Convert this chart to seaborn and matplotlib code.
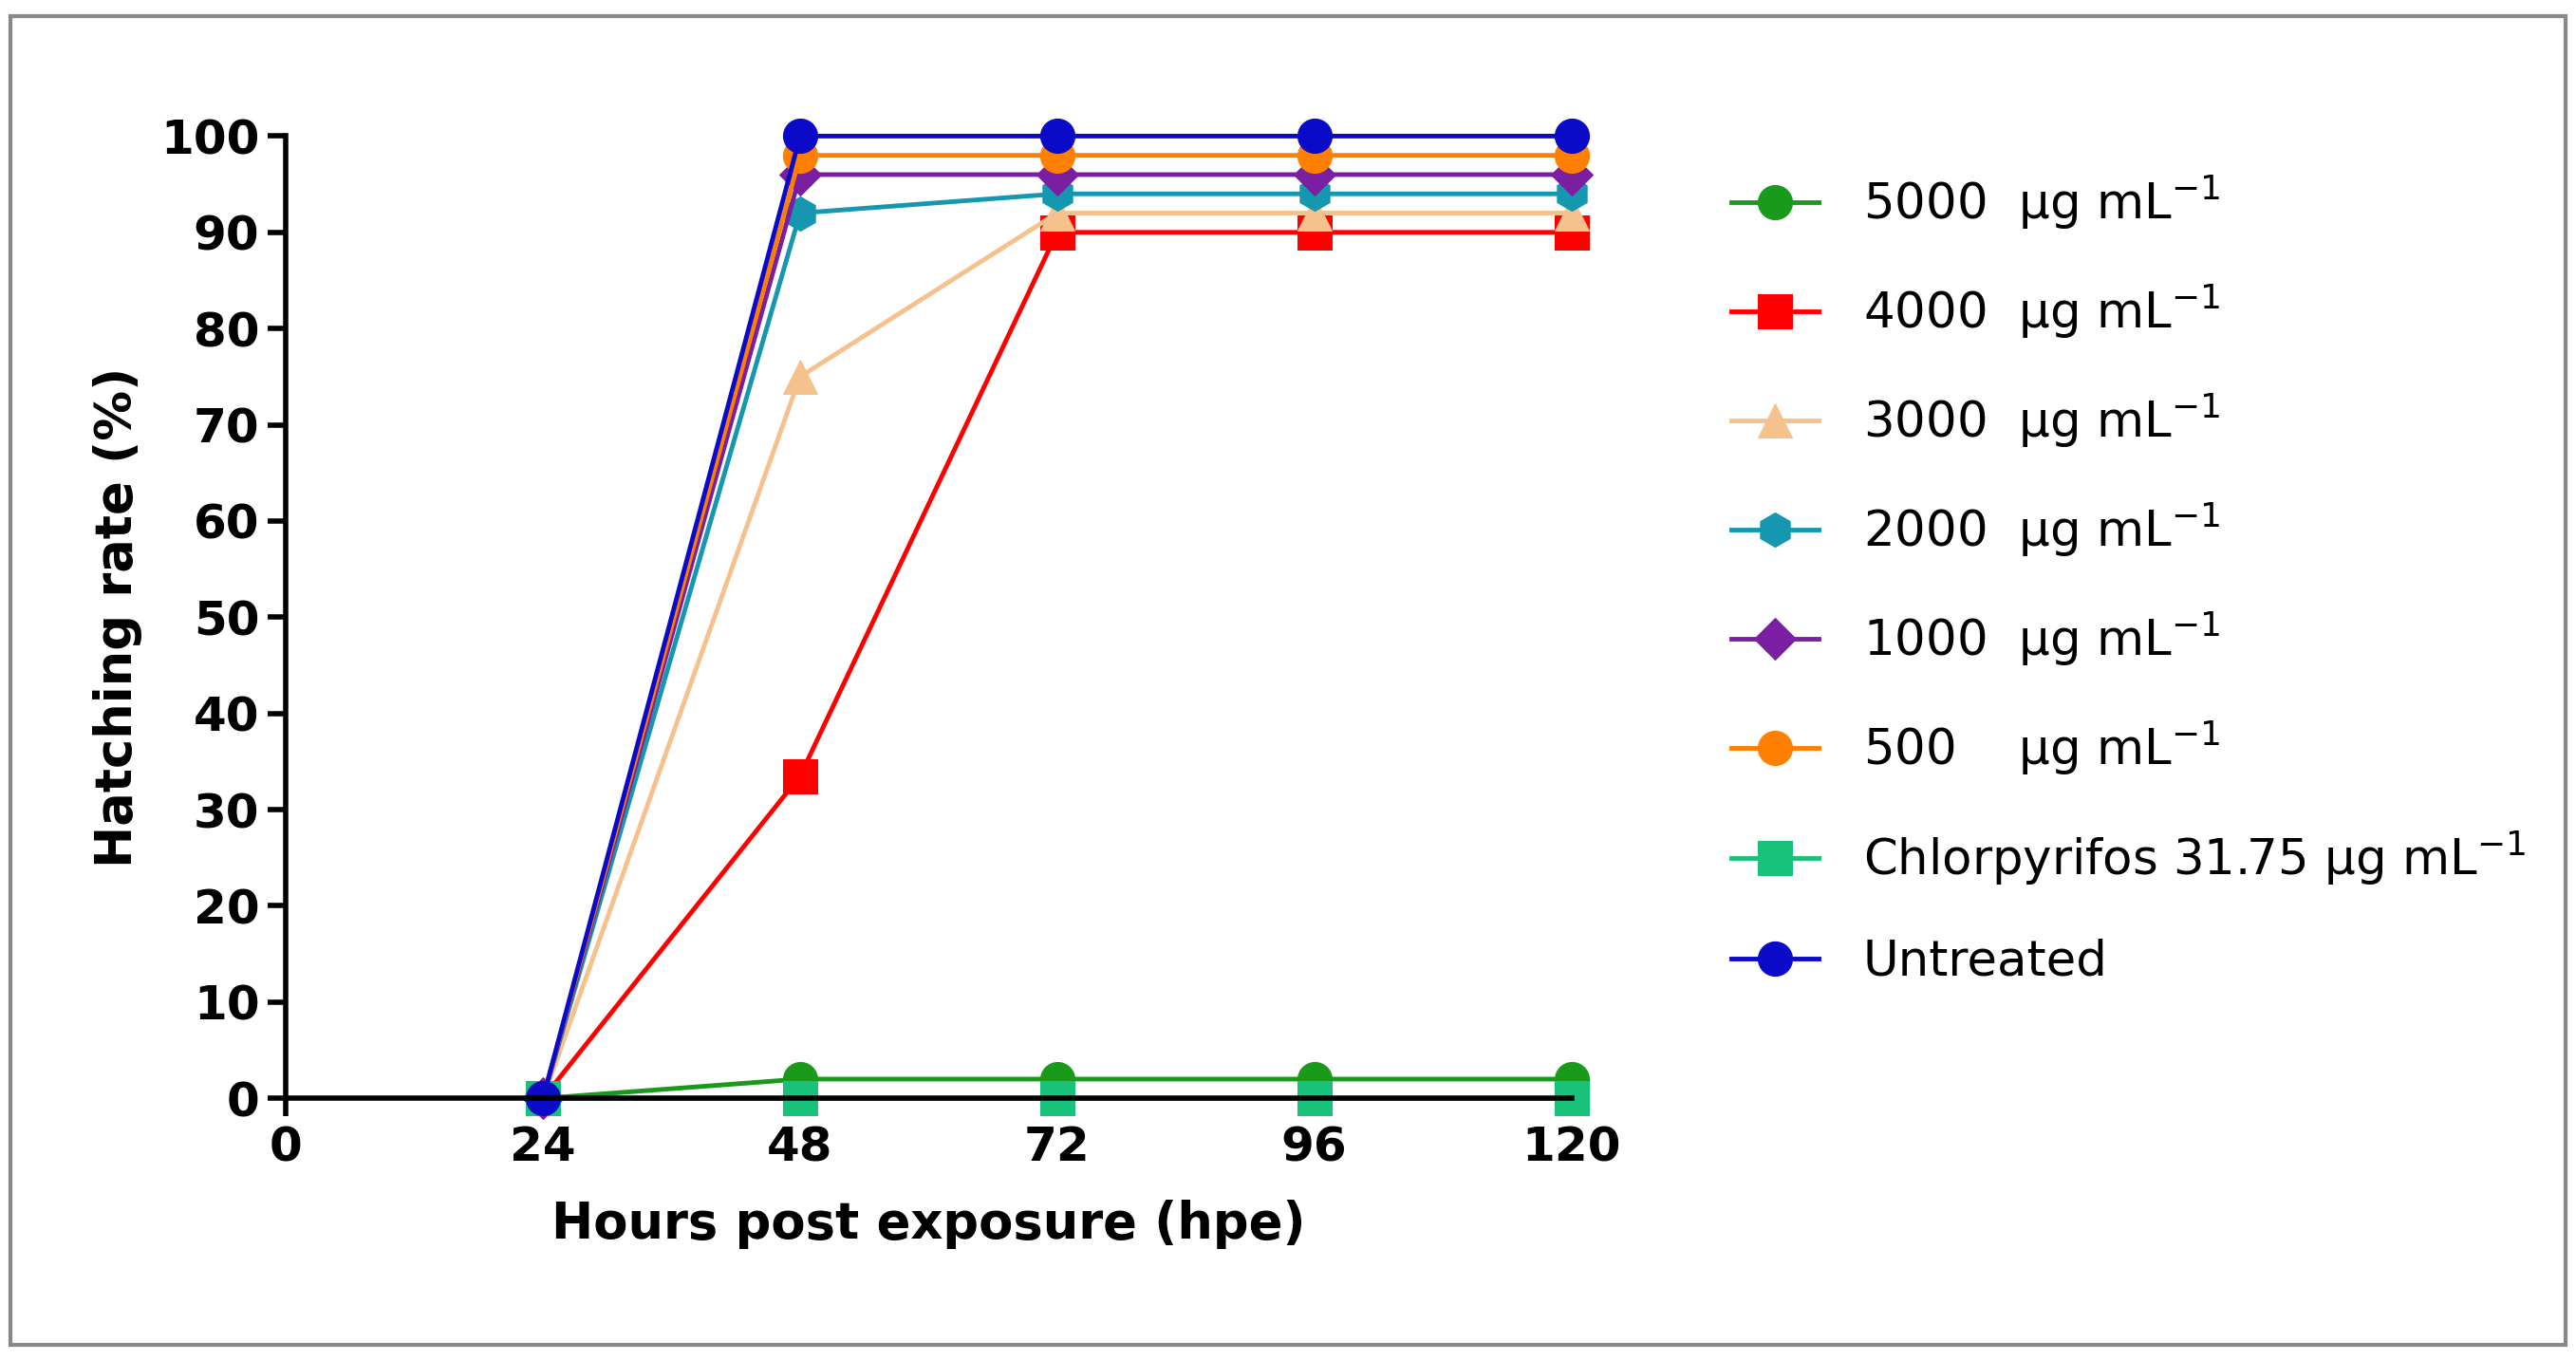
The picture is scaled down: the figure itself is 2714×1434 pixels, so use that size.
import matplotlib
matplotlib.use("Agg")
import matplotlib.pyplot as plt
import seaborn as sns
import pandas as pd
from matplotlib.patches import Rectangle

hours = [24, 48, 72, 96, 120]
labels = ["5000  μg mL$^{-1}$", "4000  μg mL$^{-1}$", "3000  μg mL$^{-1}$",
          "2000  μg mL$^{-1}$", "1000  μg mL$^{-1}$", "500    μg mL$^{-1}$",
          "Chlorpyrifos 31.75 μg mL$^{-1}$", "Untreated"]
v5000 = [0, 2, 2, 2, 2]
v4000 = [0, 33.5, 90, 90, 90]
v3000 = [0, 75, 92, 92, 92]
v2000 = [0, 92, 94, 94, 94]
v1000 = [0, 96, 96, 96, 96]
v500 = [0, 98, 98, 98, 98]
vchlor = [0, 0, 0, 0, 0]
vuntr = [0, 100, 100, 100, 100]
values = [v5000, v4000, v3000, v2000, v1000, v500, vchlor, vuntr]
colors = ["#1a9a1a", "#ff0000", "#f5c28e", "#1597b0", "#7b1fa2", "#ff8000", "#19c27a", "#0a0ac8"]
markers = ["o", "s", "^", "h", "D", "o", "s", "o"]

plt.rcParams['font.family'] = ['DejaVu Sans']
fig = plt.figure(figsize=(27.14, 14.34), dpi=100)
ax = fig.add_axes([0.111, 0.193, 0.499, 0.707])
handles = []
for lab, val, c, m in zip(labels, values, colors, markers):
    df = pd.DataFrame({"h": hours, "v": val})
    sns.lineplot(data=df, x="h", y="v", ax=ax, color=c, marker=m, markersize=26 if m != "D" else 22,
                 markeredgecolor=c, linewidth=3.5, clip_on=False, label=lab, legend=False)
    handles.append(ax.lines[-1])
ax.set_xlim(0, 120)
ax.set_ylim(0, 100)
ax.set_xticks([0, 24, 48, 72, 96, 120])
ax.set_yticks(range(0, 101, 10))
for s in ["top", "right"]:
    ax.spines[s].set_visible(False)
for s in ["left", "bottom"]:
    ax.spines[s].set_linewidth(4)
    ax.spines[s].set_color("black")
ax.tick_params(axis="both", which="major", width=4, length=14, direction="out", labelsize=36,
               pad=6, colors="black", bottom=True, left=True)
for t in ax.get_xticklabels() + ax.get_yticklabels():
    t.set_fontweight("bold")
ax.set_xlabel("Hours post exposure (hpe)", fontsize=38, fontweight="bold", labelpad=22, color="black")
ax.set_ylabel("Hatching rate (%)", fontsize=38, fontweight="bold", labelpad=14, color="black")
fig.legend(handles=handles, labels=labels, loc="upper left", bbox_to_anchor=(0.655, 0.905),
           frameon=False, fontsize=37, labelspacing=1.05, handlelength=1.8, handletextpad=0.9)
fig.patches.append(Rectangle((0.004, 0.012), 0.992, 0.976, transform=fig.transFigure,
                             fill=False, edgecolor="#888888", linewidth=3))
fig.savefig("out.png", dpi=100)
